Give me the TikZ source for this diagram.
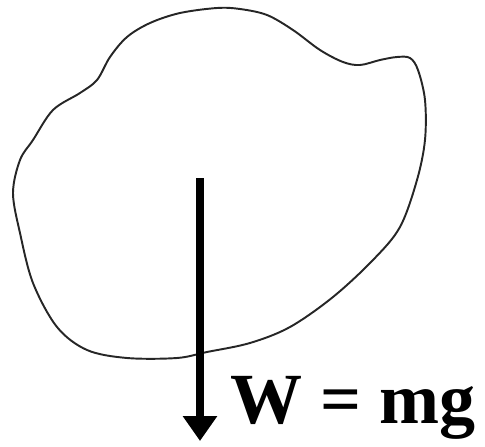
\documentclass[tikz,border=0pt]{standalone}
\usepackage{fontspec}
\setmainfont{Liberation Serif}
\usetikzlibrary{arrows.meta}

\begin{document}
\begin{tikzpicture}[x=0.02cm, y=-0.02cm,
  body/.style={draw=black!85, line width=1.1pt},
  force/.style={line width=5pt, -{Triangle[length=0.5cm, width=0.66cm]}},
  lbl/.style={font=\fontsize{41}{45}\selectfont\bfseries, anchor=base west, inner sep=0pt}]
  \useasboundingbox (0,0) rectangle (485,447);
  % rigid body outline
  \draw[body] plot[smooth cycle, tension=0.55] coordinates {
    (217,8) (240,9) (267,15) (293,30) (320,50) (343,62) (360,65) (380,60) (397,57)
    (410,58) (418,70) (425,100) (425,140) (417,180) (400,227) (373,260) (333,297)
    (290,327) (250,343) (207,352) (177,358) (127,358) (87,350) (57,327) (33,283)
    (20,233) (13,193) (20,160) (33,140) (53,110) (80,93) (97,80) (110,57) (127,37)
    (150,23) (180,13)};
  % weight
  \coordinate (cg) at (200,178);
  \coordinate (tip) at (200,441);
  \draw[force] (cg) -- (tip);
  \node[lbl] (w) at (230,423) {W = mg};
\end{tikzpicture}
\end{document}
